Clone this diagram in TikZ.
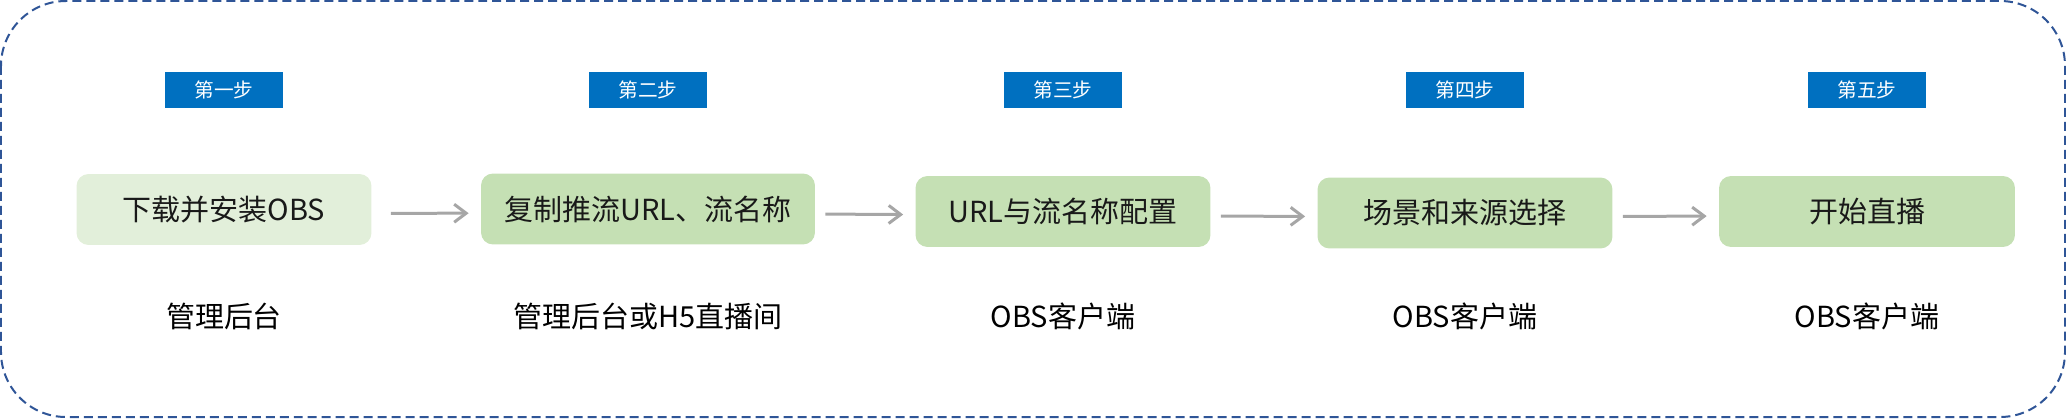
\documentclass[tikz,border=0pt]{standalone}
\usepackage{fontspec}
\setmainfont{Noto Sans CJK SC}
\usetikzlibrary{arrows.meta}

\definecolor{stepblue}{HTML}{0070C0}
\definecolor{boxgreen}{HTML}{C5E0B4}
\definecolor{boxpale}{HTML}{E2EFDA}
\definecolor{arrowgray}{HTML}{A6A6A6}
\definecolor{frameblue}{HTML}{2F5597}

\tikzset{
  badge/.style={fill=stepblue, text=white, minimum width=2.36cm, minimum height=0.72cm, inner sep=0pt, font=\fontsize{11.2}{12}\selectfont},
  stepbox/.style={rounded corners=0.24cm, minimum height=1.42cm, inner sep=0pt, text=black!90, font=\fontsize{16.5}{18}\selectfont},
  where/.style={text=black, inner sep=0pt, font=\fontsize{16.5}{18}\selectfont},
  flow/.style={draw=arrowgray, line width=0.06cm, -{Straight Barb[length=0.24cm, width=0.36cm]}, shorten <=0.2cm, shorten >=0.24cm, transform canvas={yshift=-0.08cm}},
  frame/.style={draw=frameblue, line width=0.04cm, dash pattern=on 0.18cm off 0.1cm, rounded corners=1.3cm}
}

\begin{document}
\begin{tikzpicture}[x=0.02cm, y=-0.02cm]

\useasboundingbox (0,0) rectangle (2066,419);

\newcommand\stepcol[8]{
  \node[badge] (badge#1) at (#2,90) {#6};
  \node[stepbox, fill=#5, minimum width=#4] (box#1) at (#2,#3) {#7};
  \node[where] (label#1) at (#2,316) {#8};
}

\draw[frame] (1,1) rectangle (2065,417);

\stepcol{1}{224}{209.5}{5.9cm}{boxpale}{第一步}{下载并安装OBS}{管理后台}
\stepcol{2}{648}{209}{6.68cm}{boxgreen}{第二步}{复制推流URL、流名称}{管理后台或H5直播间}
\stepcol{3}{1063}{211.5}{5.9cm}{boxgreen}{第三步}{URL与流名称配置}{OBS客户端}
\stepcol{4}{1465}{213}{5.9cm}{boxgreen}{第四步}{场景和来源选择}{OBS客户端}
\stepcol{5}{1867}{211.5}{5.92cm}{boxgreen}{第五步}{开始直播}{OBS客户端}

\draw[flow, shorten <=0.38cm] (box1) -- (box2);
\draw[flow] (box2) -- (box3);
\draw[flow] (box3) -- (box4);
\draw[flow] (box4) -- (box5);

\end{tikzpicture}
\end{document}
